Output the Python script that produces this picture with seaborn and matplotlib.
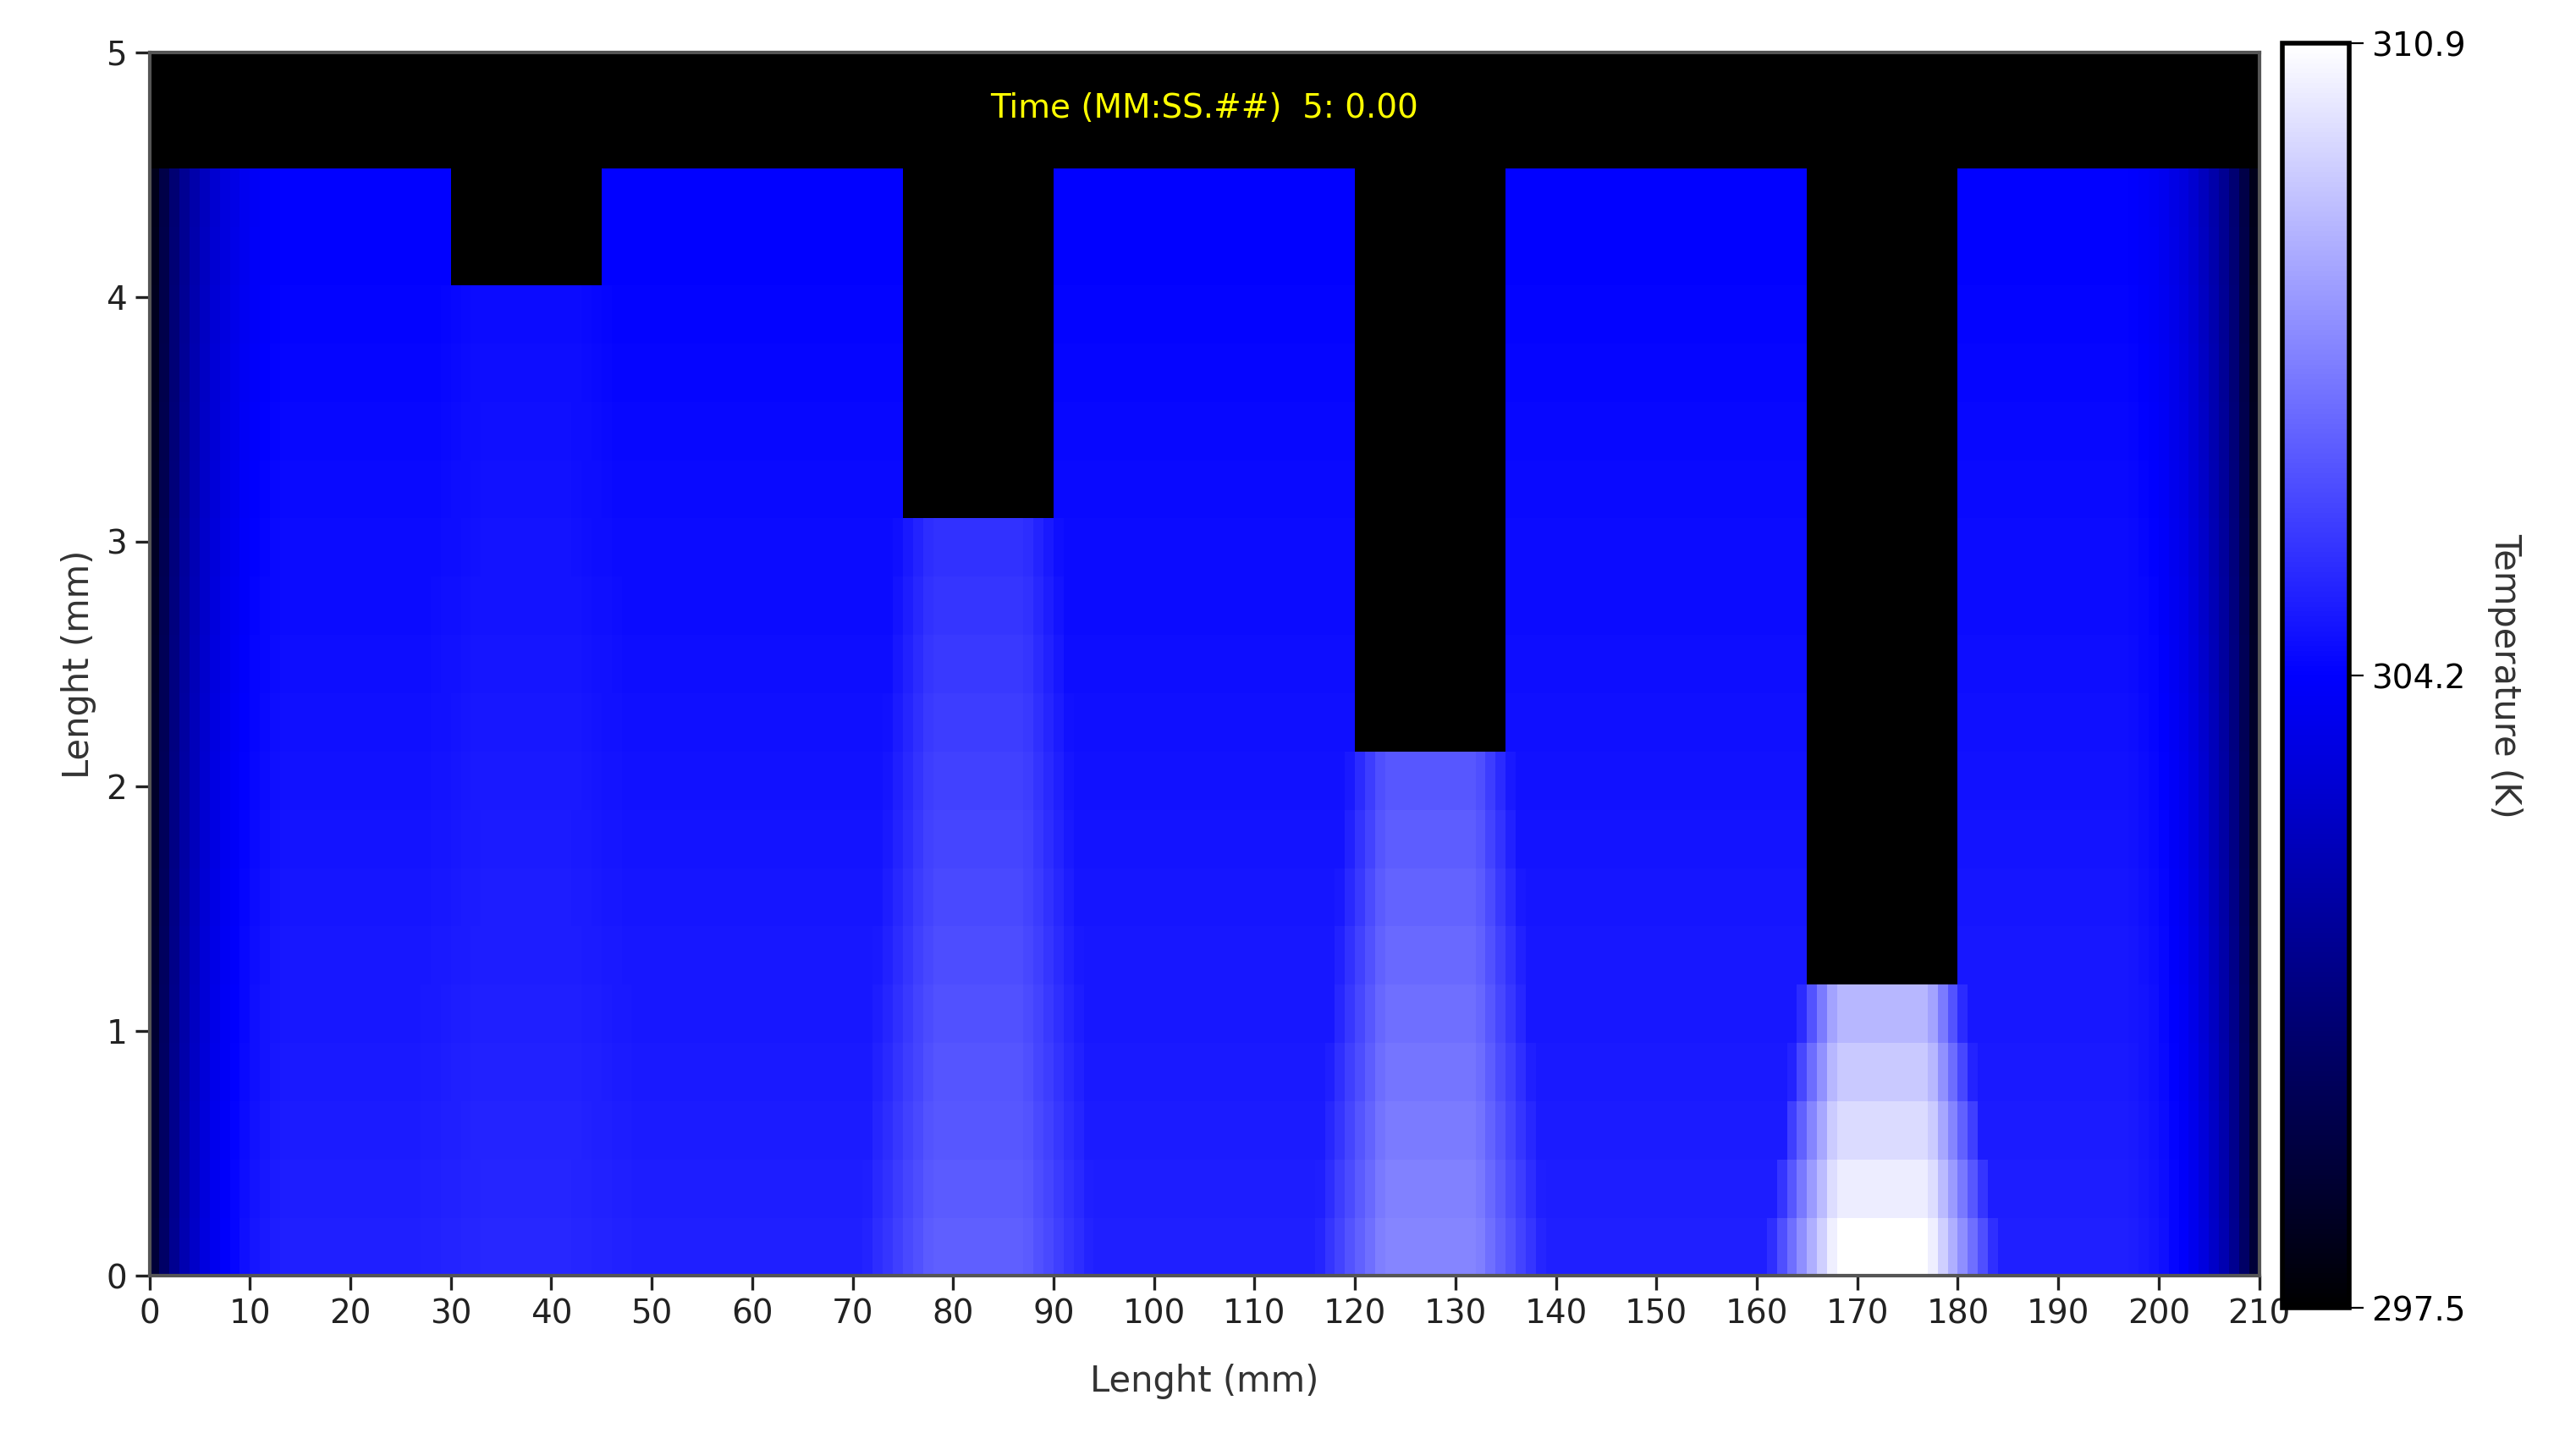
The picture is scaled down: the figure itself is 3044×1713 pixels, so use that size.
import numpy as np
import seaborn as sns
import matplotlib.pyplot as plt
from matplotlib.colors import LinearSegmentedColormap

# temperature scale (K)
t_min, t_mid, t_max = 297.5, 304.2, 310.9

# grid: 210 columns of 1 mm, 21 rows over 5 mm
n_cols = 210
n_rows = 21
length_x = 210
length_y = 5

# black notches: (x start, x end, number of rows counted from bottom that stay visible)
notch_x0 = [30, 75, 120, 165]
notch_x1 = [45, 90, 135, 180]
notch_rows = [17, 13, 9, 5]
top_rows = 19  # rows below the black band

# temperature below each notch: at the bottom edge and just under the notch
notch_hot = [305.2, 306.7, 307.7, 310.9]
notch_top = [304.5, 305.5, 306.5, 309.0]
base_top = 304.2
base_bottom = 305.0

# edge cooling (distance mm from side -> temperature offset)
edge_dist = [0, 1, 2, 3, 5, 7, 10, 13]
edge_drop = [-6.6, -5.4, -4.2, -3.2, -1.9, -1.0, -0.3, 0.0]

xc = np.arange(n_cols) + 0.5
field = np.full((n_rows, n_cols), np.nan)
for r in range(n_rows):
    frac = r / (top_rows - 1)
    row = base_bottom + (base_top - base_bottom) * frac + np.zeros(n_cols)
    for x0, x1, nr, hot, top in zip(notch_x0, notch_x1, notch_rows, notch_hot, notch_top):
        if r < nr:
            f = r / max(nr - 1, 1)
            t_here = hot + (top - hot) * f
            # spill beyond the notch grows towards the bottom
            spill = 1 + 3 * (1 - f)
            w = np.clip(np.minimum(xc - (x0 - spill), (x1 + spill) - xc) / (spill + 3), 0, 1)
            row = np.maximum(row, row + (t_here - row) * w)
    d = np.minimum(xc, length_x - xc)
    row = row + np.interp(d, edge_dist, edge_drop)
    if r < top_rows:
        field[r] = row
    for x0, x1, nr in zip(notch_x0, notch_x1, notch_rows):
        if r >= nr:
            field[r, x0:x1] = np.nan

data = field[::-1]  # heatmap draws first row at top

cmap = LinearSegmentedColormap.from_list('bkw', ['black', 'blue', 'white'])

fig = plt.figure(figsize=(15.22, 8.565), dpi=200)
ax = fig.add_axes([0.058, 0.12, 0.819, 0.844])
cax = fig.add_axes([0.886, 0.098, 0.026, 0.872])
sns.heatmap(data, ax=ax, cbar_ax=cax, cmap=cmap, vmin=t_min, vmax=t_max,
            xticklabels=False, yticklabels=False)
ax.set_facecolor('black')

xt = np.arange(0, 211, 10)
ax.set_xticks(xt * n_cols / length_x)
ax.set_xticklabels([str(v) for v in xt], fontsize=14)
yt = np.arange(0, 6)
ax.set_yticks(n_rows - yt * n_rows / length_y)
ax.set_yticklabels([str(v) for v in yt], fontsize=14, rotation=0)
ax.tick_params(length=6, width=1.2, colors='#222222')
for s in ax.spines.values():
    s.set_visible(True)
    s.set_color('#555555')
    s.set_linewidth(1.5)
ax.set_xlabel('Lenght (mm)', fontsize=15, color='#333333', labelpad=14)
ax.set_ylabel('Lenght (mm)', fontsize=15, color='#333333')
ax.text(n_cols / 2, n_rows * (1 - 4.77 / length_y), 'Time (MM:SS.##)  5: 0.00',
        color='yellow', fontsize=14, ha='center', va='center')

cb = ax.collections[0].colorbar
cb.set_ticks([t_min, t_mid, t_max])
cb.set_ticklabels(['297.5', '304.2', '310.9'])
cb.ax.tick_params(labelsize=14, length=6)
cb.outline.set_visible(True)
cb.outline.set_edgecolor('black')
cb.outline.set_linewidth(2)
cb.set_label('Temperature (K)', fontsize=15, rotation=270, labelpad=24, color='#333333')

plt.savefig('out.png', dpi=200)
